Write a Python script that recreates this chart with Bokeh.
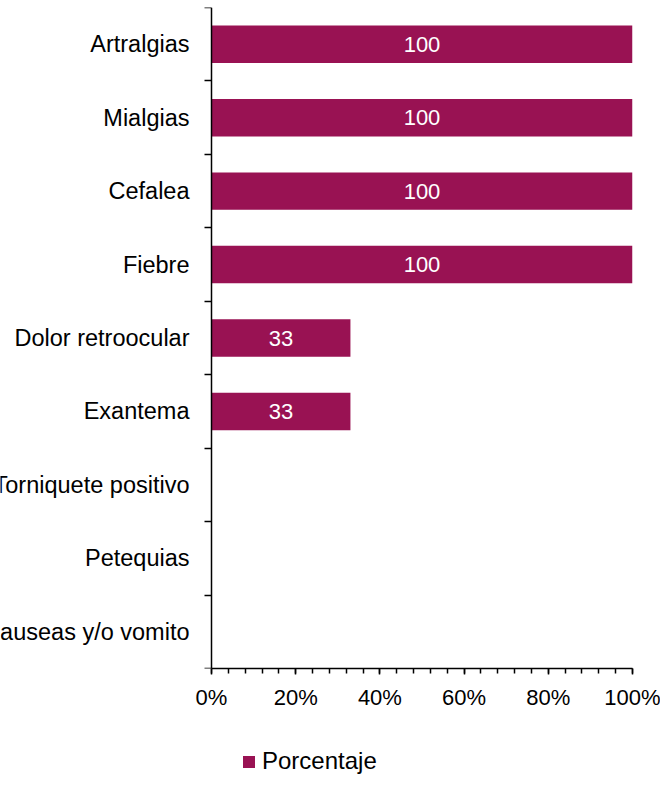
from bokeh.plotting import figure
from bokeh.layouts import column
from bokeh.models import (Range1d, FixedTicker, PrintfTickFormatter, CustomJSTickFormatter,
                          ColumnDataSource, Legend, LegendItem)
from bokeh.core.properties import value
from bokeh.embed import file_html
from bokeh.resources import INLINE

categories = ["Artralgias", "Mialgias", "Cefalea", "Fiebre", "Dolor retroocular",
              "Exantema", "Torniquete positivo", "Petequias", "Nauseas y/o vomito"]
values = [100, 100, 100, 100, 33, 33, 0, 0, 0]
x_ticks = [0, 20, 40, 60, 80, 100]
x_minor = list(range(0, 101, 4))
series_name = "Porcentaje"

BAR = "#991253"
FONT = "Liberation Sans"
n = len(categories)
ypos = [n - 0.5 - i for i in range(n)]

src = ColumnDataSource(dict(cat=categories, y=ypos, v=values, xlab=[0] * n))
nz = [i for i in range(n) if values[i] > 0]
lab_src = ColumnDataSource(dict(y=[ypos[i] for i in nz],
                                xm=[values[i] / 2 for i in nz],
                                t=[str(values[i]) for i in nz]))

# layout (pixels)
W, H1, H2 = 660, 718, 67
AXIS_X, TOP, FW, FH = 211, 7, 421, 661   # 0% position, frame top, 0..100% width, frame height
x_start = -100.0 * AXIS_X / FW

p = figure(width=W, height=H1, x_range=Range1d(x_start, 100), y_range=Range1d(0, n),
           output_backend="svg", toolbar_location=None, y_axis_location="right",
           min_border_left=0, min_border_right=W - AXIS_X - FW,
           min_border_top=TOP, min_border_bottom=H1 - TOP - FH)
p.outline_line_color = None
p.xgrid.visible = False
p.ygrid.visible = False
p.background_fill_color = "white"
p.border_fill_color = "white"

bars = p.hbar(y="y", right="v", left=0, height=0.51, source=src,
              fill_color=BAR, line_color=None)

# value labels inside bars
p.text(x="xm", y="y", text="t", source=lab_src, text_color="white",
       text_font=value(FONT), text_font_size="22px", text_align="center",
       text_baseline="middle")

# category labels
p.text(x="xlab", y="y", text="cat", source=src, x_offset=-22,
       text_color="#000000", text_font=value(FONT), text_font_size="23.5px",
       text_align="right", text_baseline="middle")

# y axis drawn at x = 0
ya = p.yaxis[0]
ya.fixed_location = 0
ya.ticker = FixedTicker(ticks=list(range(n + 1)))
ya.formatter = CustomJSTickFormatter(code="return ''")
ya.major_tick_in = 7
ya.major_tick_out = 0
ya.minor_tick_in = 0
ya.minor_tick_out = 0
ya.axis_line_color = "black"
ya.axis_line_width = 1.5
ya.major_tick_line_width = 1.5

# x axis
xa = p.xaxis[0]
xa.bounds = (0, 100)
xa.ticker = FixedTicker(ticks=x_ticks, minor_ticks=x_minor)
xa.formatter = PrintfTickFormatter(format="%d%%")
xa.major_tick_in = 0
xa.major_tick_out = 6
xa.minor_tick_in = 0
xa.minor_tick_out = 5
xa.axis_line_color = "black"
xa.axis_line_width = 1.5
xa.major_tick_line_width = 1.5
xa.minor_tick_line_width = 1.5
xa.major_label_text_font = FONT
xa.major_label_text_font_size = "22px"
xa.major_label_text_color = "#000000"
xa.major_label_standoff = 10

# legend strip below the chart (same series, drawn out of view; only the key shows)
p2 = figure(width=W, height=H2, x_range=Range1d(0, 100), y_range=Range1d(1000, 1001),
            output_backend="svg", toolbar_location=None,
            x_axis_location=None, y_axis_location=None,
            min_border_left=0, min_border_right=0, min_border_top=0, min_border_bottom=0)
p2.outline_line_color = None
p2.xgrid.visible = False
p2.ygrid.visible = False
key = p2.hbar(y="y", right="v", left=0, height=0.51, source=src,
              fill_color=BAR, line_color=None)
legend = Legend(items=[LegendItem(label=series_name, renderers=[key])],
                location=(AXIS_X + 30, 10), orientation="horizontal",
                padding=0, margin=0, border_line_color=None,
                background_fill_alpha=0, glyph_width=15, glyph_height=15,
                label_standoff=6, label_text_font=FONT, label_text_font_size="24px",
                label_text_color="#000000")
p2.add_layout(legend, "center")

layout = column(p, p2, spacing=0)
open("out.html", "w").write(file_html(layout, INLINE))
